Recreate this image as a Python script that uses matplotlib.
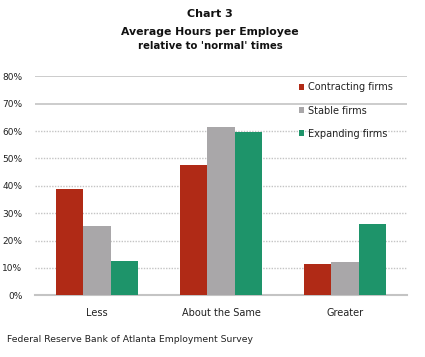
import matplotlib
matplotlib.use("Agg")
import matplotlib.pyplot as plt
import numpy as np

categories = ["Less", "About the Same", "Greater"]
series_names = ["Contracting firms", "Stable firms", "Expanding firms"]
contracting = [38.7, 47.7, 11.3]
stable = [25.2, 61.4, 12.2]
expanding = [12.4, 59.7, 26.2]
yticks = [0, 10, 20, 30, 40, 50, 60, 70, 80]
colors = ["#B02A16", "#A9A7A9", "#1E946A"]

plt.rcParams['font.family'] = ['DejaVu Sans']

fig = plt.figure(figsize=(4.25, 3.57), dpi=100)
ax = fig.add_axes([35/425, 1-295.3/357, 372/425, (295.3-76.3)/357])

x = np.arange(len(categories))
w = 0.223
for i, (vals, name, c) in enumerate(zip([contracting, stable, expanding], series_names, colors)):
    ax.bar(x + (i-1)*w, vals, width=w, color=c, label=name, zorder=3)

ax.set_xlim(-0.5, 2.5)
ax.set_ylim(0, 80)
ax.set_yticks(yticks)
ax.set_yticklabels([f"{t}%" for t in yticks], fontsize=6.5, color="#222222")
ax.set_xticks(x)
ax.set_xticklabels(categories, fontsize=7, color="#222222")
ax.tick_params(axis='both', length=0)
ax.tick_params(axis='x', pad=9)
ax.tick_params(axis='y', pad=9)
for t in yticks[1:]:
    if t >= 70:
        ax.axhline(t, color="#C4C4C4", lw=1.2, zorder=1)
    else:
        ax.axhline(t, color="#C4C4C4", lw=1.0, ls=(0, (1, 1)), zorder=1)
for s in ["top", "right", "left"]:
    ax.spines[s].set_visible(False)
ax.spines["bottom"].set_color("#C4C4C4")
ax.spines["bottom"].set_linewidth(1.5)

leg = ax.legend(loc="upper left", bbox_to_anchor=(0.70, 0.99), frameon=False,
                fontsize=7, handlelength=0.5, handleheight=0.5, handletextpad=0.4,
                labelspacing=1.35, borderaxespad=0)
for t in leg.get_texts():
    t.set_color("#222222")

fig.text(210/425, 1-14/357, "Chart 3", ha="center", va="center", fontsize=8, fontweight="bold", color="#111111")
fig.text(210/425, 1-32/357, "Average Hours per Employee", ha="center", va="center", fontsize=7.8, fontweight="bold", color="#111111")
fig.text(210/425, 1-46/357, "relative to 'normal' times", ha="center", va="center", fontsize=7.3, fontweight="bold", color="#111111")
fig.text(7/425, 1-340/357, "Federal Reserve Bank of Atlanta Employment Survey", ha="left", va="center", fontsize=6.7, color="#222222")

fig.savefig("out.png", dpi=100)
